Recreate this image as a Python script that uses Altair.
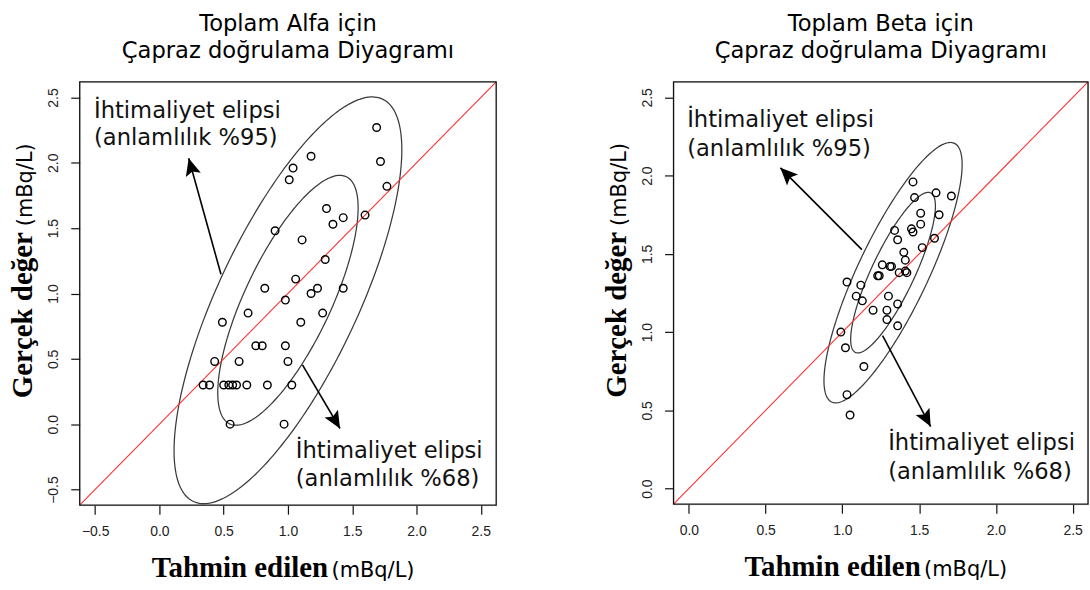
import math
import numpy as np
import pandas as pd
import altair as alt

# ---------------- data ----------------
# Toplam Alfa
alfa_pred = [1.69, 1.72, 1.77, 1.18, 1.04, 1.01, 1.30, 1.43, 1.35, 1.60,
             0.90, 1.11, 1.29, 1.06, 0.82, 1.23, 1.18, 1.43, 0.98, 0.69,
             1.27, 0.49, 1.10, 0.75, 0.80, 0.98, 0.43, 0.62, 1.00, 0.34,
             0.39, 0.50, 0.54, 0.57, 0.60, 0.68, 0.84, 1.03, 0.55, 0.97]
alfa_true = [2.27, 2.01, 1.82, 2.05, 1.96, 1.87, 1.65, 1.58, 1.53, 1.60,
             1.48, 1.41, 1.26, 1.11, 1.04, 1.04, 1.00, 1.04, 0.95, 0.85,
             0.85, 0.78, 0.78, 0.60, 0.60, 0.60, 0.48, 0.48, 0.48, 0.30,
             0.30, 0.30, 0.30, 0.30, 0.30, 0.30, 0.30, 0.30, 0.00, 0.00]

# Toplam Beta
beta_pred = [1.46, 1.47, 1.61, 1.71, 1.51, 1.63, 1.51, 1.34, 1.45, 1.46,
             1.36, 1.60, 1.52, 1.40, 1.41, 1.26, 1.31, 1.32, 1.41, 1.42,
             1.37, 1.23, 1.24, 1.03, 1.12, 1.09, 1.13, 1.30, 1.20, 1.29,
             1.36, 1.29, 1.36, 0.99, 1.02, 1.14, 1.03, 1.05]
beta_true = [1.96, 1.86, 1.89, 1.87, 1.76, 1.75, 1.69, 1.65, 1.66, 1.64,
             1.59, 1.60, 1.54, 1.51, 1.46, 1.43, 1.42, 1.42, 1.39, 1.38,
             1.38, 1.36, 1.36, 1.32, 1.30, 1.23, 1.20, 1.23, 1.14, 1.14,
             1.18, 1.08, 1.04, 1.00, 0.90, 0.78, 0.60, 0.47]

# axis domains / ticks
alfa_domain = [-0.62, 2.62]
alfa_ticks = [-0.5, 0.0, 0.5, 1.0, 1.5, 2.0, 2.5]
beta_domain = [-0.1, 2.6]
beta_ticks = [0.0, 0.5, 1.0, 1.5, 2.0, 2.5]

# probability ellipses: centre, half widths / half heights for %68 and %95, correlation
alfa_center = [1.00, 0.948]
alfa_half_w = [0.546, 0.886]
alfa_half_h = [0.956, 1.556]
alfa_rho = 0.74
beta_center = [1.33, 1.38]
beta_half_w = [0.276, 0.450]
beta_half_h = [0.513, 0.832]
beta_rho = 0.83
levels = ["%68", "%95"]

# arrows (start -> tip, data units)
alfa_arrow_x1 = [0.479, 1.113]
alfa_arrow_y1 = [1.147, 0.454]
alfa_arrow_x2 = [0.228, 1.405]
alfa_arrow_y2 = [2.035, -0.033]
beta_arrow_x1 = [1.127, 1.262]
beta_arrow_y1 = [1.527, 0.977]
beta_arrow_x2 = [0.596, 1.575]
beta_arrow_y2 = [2.050, 0.396]

# annotation lines
note_lines = ["İhtimaliyet elipsi", "(anlamlılık %95)",
              "İhtimaliyet elipsi", "(anlamlılık %68)"]
alfa_note_x = [-0.509, -0.509, 1.061, 1.061]
alfa_note_y = [2.339, 2.136, -0.261, -0.476]
beta_note_x = [-0.011, -0.011, 1.298, 1.298]
beta_note_y = [2.310, 2.124, 0.247, 0.063]

alfa_title = ["Toplam Alfa için", "Çapraz doğrulama Diyagramı"]
beta_title = ["Toplam Beta için", "Çapraz doğrulama Diyagramı"]
y_title_bold = "Gerçek değer"
x_title_bold = "Tahmin edilen"
unit_text = "(mBq/L)"

SANS = "DejaVu Sans"
SERIF = "Liberation Serif"
ARROW_PATH = "M0,0L0.9,2L0,1.6L-0.9,2Z"


def ellipse_frame(center, half_w, half_h, rho):
    t = np.linspace(0, 2 * math.pi, 241)
    rows = []
    s = math.sqrt(1 - rho ** 2)
    for lev, hw, hh in zip(levels, half_w, half_h):
        for i, tt in enumerate(t):
            rows.append({"level": lev, "i": i,
                         "x": center[0] + hw * math.cos(tt),
                         "y": center[1] + hh * (rho * math.cos(tt) + s * math.sin(tt))})
    return pd.DataFrame(rows)


def panel(pred, true, domain, ticks, center, half_w, half_h, rho,
          ax1, ay1, ax2, ay2, note_x, note_y, title, W, H):
    xs = alt.Scale(domain=domain, nice=False, zero=False)
    ys = alt.Scale(domain=domain, nice=False, zero=False)
    xaxis = alt.Axis(values=ticks, format=".1f", title=None, grid=False, domain=False,
                     tickSize=9, tickColor="#111", tickWidth=1.2,
                     labelFont="Liberation Sans", labelFontSize=14, labelColor="#222",
                     labelPadding=10, labelFlush=False, labelOverlap=False)
    yaxis = alt.Axis(values=ticks, format=".1f", title=None, grid=False, domain=False,
                     tickSize=9, tickColor="#111", tickWidth=1.2,
                     labelFont="Liberation Sans", labelFontSize=14, labelColor="#222",
                     labelAngle=270, labelAlign="center", labelBaseline="alphabetic",
                     labelPadding=13, labelFlush=False, labelOverlap=False)

    pts = pd.DataFrame({"x": pred, "y": true})
    points = alt.Chart(pts).mark_point(shape="circle", filled=False, color="black",
                                       size=58, strokeWidth=1.4, opacity=1).encode(
        x=alt.X("x:Q", scale=xs, axis=xaxis),
        y=alt.Y("y:Q", scale=ys, axis=yaxis))

    ell = alt.Chart(ellipse_frame(center, half_w, half_h, rho)).mark_line(
        color="#3a3a3a", strokeWidth=1.25).encode(
        x=alt.X("x:Q", scale=xs), y=alt.Y("y:Q", scale=ys),
        detail="level:N", order="i:Q")

    diag = alt.Chart(pd.DataFrame({"x": domain, "y": domain})).mark_line(
        color="#ff3030", strokeWidth=1.1, clip=True).encode(
        x=alt.X("x:Q", scale=xs), y=alt.Y("y:Q", scale=ys))

    kx = W / (domain[1] - domain[0])
    ky = H / (domain[1] - domain[0])
    ang = [(math.degrees(math.atan2((x2 - x1) * kx, (y2 - y1) * ky)) + 360) % 360
           for x1, y1, x2, y2 in zip(ax1, ay1, ax2, ay2)]
    arr = pd.DataFrame({"x1": ax1, "y1": ay1, "x2": ax2, "y2": ay2, "angle": ang})
    shafts = alt.Chart(arr).mark_rule(color="black", strokeWidth=1.6).encode(
        x=alt.X("x1:Q", scale=xs), y=alt.Y("y1:Q", scale=ys), x2="x2:Q", y2="y2:Q")
    heads = alt.Chart(arr).mark_point(shape=ARROW_PATH, filled=True, color="black",
                                      size=300, opacity=1, strokeWidth=0).encode(
        x=alt.X("x2:Q", scale=xs), y=alt.Y("y2:Q", scale=ys),
        angle=alt.Angle("angle:Q", scale=None))

    notes = alt.Chart(pd.DataFrame({"x": note_x, "y": note_y, "t": note_lines})).mark_text(
        font=SANS, fontSize=22.7, align="left", baseline="alphabetic", color="#111").encode(
        x=alt.X("x:Q", scale=xs), y=alt.Y("y:Q", scale=ys), text="t:N")

    one = pd.DataFrame({"a": [0]})
    frame = alt.Chart(one).mark_rect(fill=None, stroke="#111", strokeWidth=1.3).encode(
        x=alt.value(0), x2=alt.value(W), y=alt.value(0), y2=alt.value(H))
    ytb = alt.Chart(one).mark_text(font=SERIF, fontWeight="bold", fontSize=29, angle=270,
                                   align="right", baseline="alphabetic", color="black",
                                   text=y_title_bold).encode(
        x=alt.value(-48), y=alt.value(H * 151 / 425))
    ytu = alt.Chart(one).mark_text(font=SANS, fontSize=21, angle=270, align="left",
                                   baseline="alphabetic", color="black", text=unit_text).encode(
        x=alt.value(-48), y=alt.value(H * 145 / 425))
    xtb = alt.Chart(one).mark_text(font=SERIF, fontWeight="bold", fontSize=29,
                                   align="right", baseline="alphabetic", color="black",
                                   text=x_title_bold).encode(
        x=alt.value(W * 249.3 / 418), y=alt.value(H + 72.3))
    xtu = alt.Chart(one).mark_text(font=SANS, fontSize=21, align="left",
                                   baseline="alphabetic", color="black", text=unit_text).encode(
        x=alt.value(W * 252.7 / 418), y=alt.value(H + 72.3))

    return alt.layer(ell, diag, points, shafts, heads, notes, frame, ytb, ytu, xtb, xtu).properties(
        width=W, height=H,
        title=alt.TitleParams(text=title, font=SANS, fontSize=22.7, fontWeight="normal",
                              color="black", anchor="middle", lineHeight=27,
                              baseline="alphabetic", offset=1))


left = panel(alfa_pred, alfa_true, alfa_domain, alfa_ticks, alfa_center, alfa_half_w,
             alfa_half_h, alfa_rho, alfa_arrow_x1, alfa_arrow_y1, alfa_arrow_x2,
             alfa_arrow_y2, alfa_note_x, alfa_note_y, alfa_title, 418, 425)
right = panel(beta_pred, beta_true, beta_domain, beta_ticks, beta_center, beta_half_w,
              beta_half_h, beta_rho, beta_arrow_x1, beta_arrow_y1, beta_arrow_x2,
              beta_arrow_y2, beta_note_x, beta_note_y, beta_title, 416, 424)

chart = alt.hconcat(left, right, spacing=104).properties(
    padding={"left": 8, "top": 11, "right": 0, "bottom": 0}
).configure_view(stroke=None).configure(background="white")

chart.save("out.html", embed_options={"renderer": "svg", "actions": False})
